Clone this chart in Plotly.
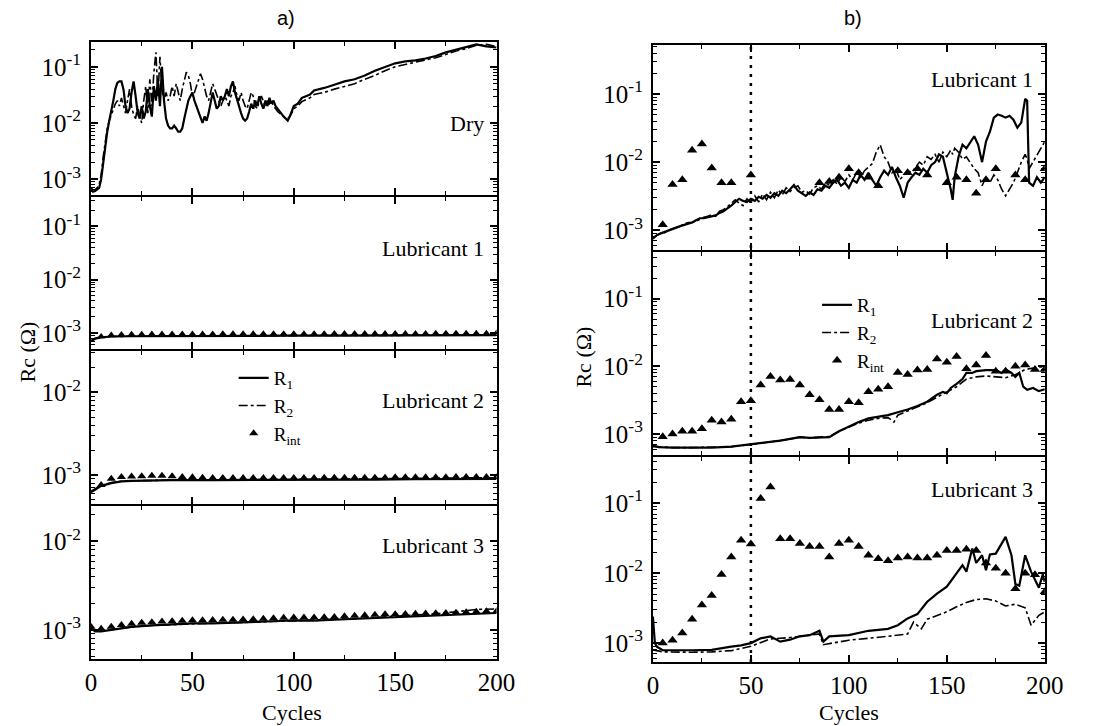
import plotly.graph_objects as go

W, H = 1097, 726

# ---------------- data ----------------
# (a) Dry
dry_x = list(range(0, 101)) + [102, 104, 106, 108, 110] + list(range(115, 201, 5))
dry_r1 = [6.5e-4, 6.0e-4, 6.2e-4, 6.5e-4, 7.0e-4, 1.0e-3, 2.0e-3, 4.0e-3, 7.0e-3, 1.1e-2,
          1.6e-2, 2.5e-2, 4.0e-2, 5.2e-2, 5.5e-2, 5.5e-2, 4.0e-2, 2.0e-2, 1.5e-2, 1.8e-2,
          3.5e-2, 5.5e-2, 3.0e-2, 1.5e-2, 1.2e-2, 2.0e-2, 1.2e-2, 1.6e-2, 4.0e-2, 2.0e-2,
          1.3e-2, 4.5e-2, 2.5e-2, 6.0e-2, 2.0e-2, 1.0e-1, 2.5e-2, 1.2e-2, 9.0e-3, 8.0e-3,
          8.0e-3, 9.0e-3, 8.0e-3, 7.0e-3, 7.0e-3, 8.0e-3, 1.2e-2, 1.8e-2, 2.5e-2, 3.0e-2,
          3.5e-2, 2.5e-2, 2.0e-2, 1.5e-2, 1.2e-2, 1.0e-2, 1.3e-2, 1.1e-2, 1.5e-2, 2.5e-2,
          3.5e-2, 2.5e-2, 1.8e-2, 2.0e-2, 3.0e-2, 2.5e-2, 3.0e-2, 4.0e-2, 3.0e-2, 4.5e-2,
          5.5e-2, 3.5e-2, 2.5e-2, 2.0e-2, 1.5e-2, 1.2e-2, 1.1e-2, 1.2e-2, 1.6e-2, 2.2e-2,
          1.8e-2, 2.5e-2, 2.0e-2, 3.0e-2, 2.2e-2, 1.8e-2, 2.5e-2, 2.0e-2, 2.8e-2, 2.2e-2,
          2.5e-2, 2.0e-2, 1.8e-2, 1.6e-2, 1.5e-2, 1.3e-2, 1.2e-2, 1.1e-2, 1.3e-2, 1.6e-2,
          2.0e-2,
          2.2e-2, 2.8e-2, 3.0e-2, 3.2e-2, 3.8e-2,
          4.2e-2, 4.8e-2, 5.5e-2, 6.0e-2, 7.0e-2, 8.5e-2, 1.0e-1, 1.15e-1, 1.25e-1, 1.3e-1,
          1.4e-1, 1.55e-1, 1.8e-1, 2.0e-1, 2.2e-1, 2.5e-1, 2.3e-1, 2.2e-1]
dry_r2 = [7.0e-4, 6.5e-4, 6.5e-4, 7.0e-4, 8.0e-4, 1.2e-3, 2.5e-3, 5.0e-3, 8.0e-3, 1.1e-2,
          1.4e-2, 1.8e-2, 2.2e-2, 2.5e-2, 2.0e-2, 2.8e-2, 2.0e-2, 1.5e-2, 2.5e-2, 4.0e-2,
          2.0e-2, 1.4e-2, 1.2e-2, 2.0e-2, 1.3e-2, 1.0e-2, 2.5e-2, 4.5e-2, 1.5e-2, 6.0e-2,
          2.0e-2, 8.0e-2, 1.8e-1, 3.0e-2, 1.5e-1, 4.0e-2, 2.5e-2, 3.5e-2, 2.5e-2, 3.0e-2,
          4.5e-2, 3.0e-2, 5.0e-2, 3.5e-2, 2.5e-2, 4.0e-2, 6.0e-2, 8.0e-2, 7.0e-2, 5.0e-2,
          3.0e-2, 3.5e-2, 4.5e-2, 6.0e-2, 7.5e-2, 6.0e-2, 4.0e-2, 3.0e-2, 2.5e-2, 3.5e-2,
          5.0e-2, 4.0e-2, 3.0e-2, 2.5e-2, 2.0e-2, 2.5e-2, 3.0e-2, 2.5e-2, 2.0e-2, 3.0e-2,
          3.5e-2, 4.5e-2, 3.0e-2, 2.5e-2, 3.5e-2, 2.5e-2, 2.0e-2, 1.8e-2, 2.5e-2, 3.5e-2,
          3.0e-2, 2.0e-2, 1.8e-2, 2.5e-2, 3.0e-2, 2.5e-2, 2.0e-2, 2.5e-2, 2.2e-2, 2.5e-2,
          2.0e-2, 1.8e-2, 1.6e-2, 1.5e-2, 1.4e-2, 1.3e-2, 1.2e-2, 1.2e-2, 1.3e-2, 1.5e-2,
          1.8e-2,
          2.0e-2, 2.4e-2, 2.6e-2, 2.8e-2, 3.2e-2,
          3.5e-2, 4.0e-2, 4.5e-2, 5.0e-2, 6.0e-2, 7.0e-2, 8.5e-2, 1.0e-1, 1.1e-1, 1.2e-1,
          1.3e-1, 1.45e-1, 1.65e-1, 1.9e-1, 2.1e-1, 2.4e-1, 2.5e-1, 2.3e-1]

# (a) Lubricant 1
a1_x = [0, 2, 5, 10, 20, 40, 60, 80, 100, 120, 140, 160, 180, 200]
a1_r1 = [7.0e-4, 7.8e-4, 8.3e-4, 8.6e-4, 8.7e-4, 8.8e-4, 8.8e-4, 8.9e-4, 8.9e-4, 8.9e-4, 9.0e-4, 9.0e-4, 9.0e-4, 9.1e-4]
a1_r2 = [7.2e-4, 8.0e-4, 8.4e-4, 8.6e-4, 8.7e-4, 8.8e-4, 8.9e-4, 8.9e-4, 8.9e-4, 9.0e-4, 9.0e-4, 9.1e-4, 9.1e-4, 9.2e-4]
a1_int_x = list(range(5, 201, 5))
a1_int = [8.6e-4, 9.2e-4, 9.4e-4, 9.5e-4, 9.5e-4, 9.6e-4, 9.6e-4, 9.6e-4, 9.6e-4, 9.6e-4,
          9.6e-4, 9.6e-4, 9.7e-4, 9.7e-4, 9.7e-4, 9.7e-4, 9.7e-4, 9.7e-4, 9.7e-4, 9.7e-4,
          9.7e-4, 9.7e-4, 9.7e-4, 9.8e-4, 9.8e-4, 9.8e-4, 9.8e-4, 9.8e-4, 9.8e-4, 9.8e-4,
          9.8e-4, 9.8e-4, 9.8e-4, 9.9e-4, 9.9e-4, 9.9e-4, 9.9e-4, 9.9e-4, 9.9e-4, 1.0e-3]

# (a) Lubricant 2
a2_x = [0, 2, 5, 10, 15, 20, 30, 40, 60, 80, 100, 120, 140, 160, 180, 200]
a2_r1 = [6.2e-4, 6.6e-4, 7.4e-4, 8.0e-4, 8.4e-4, 8.5e-4, 8.6e-4, 8.7e-4, 8.7e-4, 8.7e-4, 8.7e-4, 8.8e-4, 8.8e-4, 8.9e-4, 8.9e-4, 9.0e-4]
a2_r2 = [6.4e-4, 6.8e-4, 7.5e-4, 8.1e-4, 8.4e-4, 8.5e-4, 8.6e-4, 8.7e-4, 8.7e-4, 8.8e-4, 8.8e-4, 8.9e-4, 9.0e-4, 9.1e-4, 9.2e-4, 9.3e-4]
a2_int_x = list(range(5, 201, 5))
a2_int = [7.6e-4, 9.0e-4, 9.5e-4, 9.6e-4, 9.7e-4, 9.8e-4, 9.8e-4, 9.7e-4, 9.5e-4, 9.4e-4,
          9.3e-4, 9.2e-4, 9.2e-4, 9.2e-4, 9.2e-4, 9.2e-4, 9.2e-4, 9.2e-4, 9.2e-4, 9.2e-4,
          9.2e-4, 9.2e-4, 9.3e-4, 9.3e-4, 9.3e-4, 9.3e-4, 9.3e-4, 9.3e-4, 9.3e-4, 9.4e-4,
          9.4e-4, 9.4e-4, 9.4e-4, 9.4e-4, 9.4e-4, 9.5e-4, 9.5e-4, 9.5e-4, 9.5e-4, 9.5e-4]

# (a) Lubricant 3
a3_x = [0, 2, 5, 10, 20, 30, 40, 50, 60, 70, 80, 90, 100, 110, 120, 130, 140, 150, 160, 170, 180, 190, 200]
a3_r1 = [1.05e-3, 9.6e-4, 9.6e-4, 1.0e-3, 1.08e-3, 1.12e-3, 1.15e-3, 1.18e-3, 1.18e-3, 1.2e-3, 1.21e-3, 1.25e-3,
         1.28e-3, 1.27e-3, 1.3e-3, 1.33e-3, 1.37e-3, 1.4e-3, 1.42e-3, 1.45e-3, 1.5e-3, 1.53e-3, 1.55e-3]
a3_r2 = [1.05e-3, 9.7e-4, 9.7e-4, 1.0e-3, 1.08e-3, 1.12e-3, 1.15e-3, 1.18e-3, 1.19e-3, 1.2e-3, 1.22e-3, 1.25e-3,
         1.28e-3, 1.28e-3, 1.31e-3, 1.34e-3, 1.38e-3, 1.42e-3, 1.46e-3, 1.52e-3, 1.6e-3, 1.7e-3, 1.72e-3]
a3_int_x = list(range(0, 201, 5))
a3_int = [1.08e-3, 1.03e-3, 1.08e-3, 1.13e-3, 1.17e-3, 1.2e-3, 1.22e-3, 1.24e-3, 1.25e-3, 1.27e-3,
          1.28e-3, 1.28e-3, 1.29e-3, 1.3e-3, 1.3e-3, 1.31e-3, 1.32e-3, 1.33e-3, 1.35e-3, 1.37e-3,
          1.38e-3, 1.38e-3, 1.38e-3, 1.39e-3, 1.4e-3, 1.42e-3, 1.44e-3, 1.46e-3, 1.48e-3, 1.5e-3,
          1.5e-3, 1.51e-3, 1.52e-3, 1.53e-3, 1.54e-3, 1.55e-3, 1.56e-3, 1.58e-3, 1.6e-3, 1.62e-3, 1.62e-3]

# (b) Lubricant 1
b1_x = list(range(0, 151, 2)) + [152, 153, 154] + list(range(156, 191, 2)) + [191, 192, 194, 196, 198, 200]
b1_r1 = [7.5e-4, 8.5e-4, 9.0e-4, 9.5e-4, 1.0e-3, 1.05e-3, 1.1e-3, 1.15e-3, 1.2e-3, 1.25e-3,
         1.3e-3, 1.4e-3, 1.5e-3, 1.5e-3, 1.55e-3, 1.6e-3, 1.65e-3, 1.8e-3, 1.9e-3, 2.1e-3,
         2.3e-3, 2.6e-3, 2.9e-3, 2.7e-3, 2.6e-3, 2.9e-3, 2.7e-3, 3.1e-3, 2.9e-3, 3.3e-3,
         3.0e-3, 3.5e-3, 3.2e-3, 3.8e-3, 3.5e-3, 4.0e-3, 4.6e-3, 3.8e-3, 3.5e-3, 3.2e-3,
         3.6e-3, 3.3e-3, 4.0e-3, 3.8e-3, 4.5e-3, 4.2e-3, 5.0e-3, 5.5e-3, 4.5e-3, 5.0e-3,
         4.2e-3, 5.5e-3, 5.0e-3, 6.5e-3, 5.5e-3, 7.0e-3, 5.5e-3, 4.5e-3, 6.0e-3, 7.5e-3,
         6.5e-3, 8.5e-3, 6.0e-3, 4.5e-3, 3.0e-3, 5.0e-3, 6.0e-3, 7.0e-3, 6.5e-3, 8.0e-3,
         7.0e-3, 9.0e-3, 1.0e-2, 1.3e-2, 1.2e-2, 7.0e-3,
         4.0e-3, 2.8e-3, 6.0e-3,
         1.2e-2, 1.8e-2, 1.6e-2, 2.0e-2, 2.4e-2, 1.8e-2, 1.0e-2, 2.0e-2, 2.8e-2, 4.5e-2,
         5.0e-2, 4.8e-2, 4.5e-2, 4.8e-2, 4.2e-2, 3.2e-2, 3.8e-2, 8.5e-2,
         8.0e-2, 5.0e-3, 4.5e-3, 6.0e-3, 5.0e-3, 6.0e-3]
b1_r2 = [7.8e-4, 8.3e-4, 9.0e-4, 9.2e-4, 1.0e-3, 1.05e-3, 1.1e-3, 1.15e-3, 1.25e-3, 1.3e-3,
         1.3e-3, 1.35e-3, 1.45e-3, 1.55e-3, 1.6e-3, 1.7e-3, 1.6e-3, 1.9e-3, 2.0e-3, 2.2e-3,
         2.5e-3, 2.8e-3, 2.5e-3, 2.3e-3, 2.9e-3, 2.5e-3, 3.2e-3, 2.6e-3, 3.4e-3, 2.8e-3,
         3.6e-3, 3.0e-3, 3.9e-3, 3.3e-3, 4.2e-3, 3.7e-3, 4.2e-3, 4.5e-3, 3.6e-3, 3.8e-3,
         3.4e-3, 4.2e-3, 4.5e-3, 4.0e-3, 5.0e-3, 4.6e-3, 5.5e-3, 4.8e-3, 6.0e-3, 5.2e-3,
         6.5e-3, 5.5e-3, 7.0e-3, 6.0e-3, 7.5e-3, 8.5e-3, 9.5e-3, 1.4e-2, 1.8e-2, 1.2e-2,
         1.0e-2, 7.0e-3, 8.0e-3, 5.5e-3, 6.5e-3, 7.5e-3, 7.0e-3, 8.5e-3, 1.0e-2, 9.0e-3,
         1.2e-2, 1.1e-2, 1.3e-2, 1.0e-2, 1.4e-2, 1.2e-2,
         1.5e-2, 1.3e-2, 1.6e-2,
         1.4e-2, 1.1e-2, 1.2e-2, 1.0e-2, 8.0e-3, 7.0e-3, 4.5e-3, 6.0e-3, 5.0e-3, 6.5e-3,
         5.5e-3, 4.0e-3, 3.2e-3, 4.0e-3, 5.0e-3, 7.0e-3, 1.0e-2, 1.3e-2,
         1.1e-2, 8.0e-3, 1.0e-2, 1.3e-2, 1.6e-2, 2.0e-2]
b1_int_x = [5, 10, 15, 20, 25, 30, 35, 40, 50, 85, 90, 95, 100, 105, 110, 115, 125, 130, 135, 140,
            150, 155, 160, 165, 170, 175, 185, 190, 200]
b1_int = [1.2e-3, 4.7e-3, 5.5e-3, 1.5e-2, 1.85e-2, 8.2e-3, 5.0e-3, 5.0e-3, 6.5e-3, 5.0e-3,
          5.2e-3, 6.0e-3, 8.0e-3, 7.0e-3, 6.0e-3, 4.5e-3, 7.5e-3, 7.0e-3, 8.0e-3, 6.5e-3,
          5.0e-3, 6.0e-3, 5.5e-3, 3.5e-3, 5.5e-3, 8.0e-3, 6.5e-3, 5.5e-3, 8.0e-3]

# (b) Lubricant 2
b2_x1 = [0, 3, 10, 20, 30, 40, 50, 55, 60, 65, 70, 75, 80, 85, 90, 95, 100, 105, 110, 115, 120,
         125, 130, 135, 140, 145, 148, 150, 152, 155, 158, 160, 163, 165, 170, 175, 178, 180, 183,
         185, 187, 189, 191, 194, 197, 200]
b2_r1 = [6.8e-4, 6.4e-4, 6.3e-4, 6.3e-4, 6.3e-4, 6.5e-4, 7.0e-4, 7.3e-4, 7.6e-4, 8.0e-4, 8.5e-4,
         9.0e-4, 8.8e-4, 9.0e-4, 9.0e-4, 1.1e-3, 1.3e-3, 1.5e-3, 1.7e-3, 1.8e-3, 1.9e-3,
         2.1e-3, 2.3e-3, 2.6e-3, 3.0e-3, 3.8e-3, 4.2e-3, 4.0e-3, 4.8e-3, 5.5e-3, 6.5e-3, 8.0e-3,
         8.0e-3, 8.5e-3, 8.8e-3, 8.8e-3, 8.0e-3, 9.0e-3, 8.0e-3,
         7.0e-3, 8.0e-3, 5.0e-3, 4.5e-3, 4.8e-3, 4.3e-3, 4.6e-3]
b2_x2 = [0, 10, 20, 30, 40, 50, 60, 70, 75, 80, 85, 90, 95, 100, 105, 110, 115, 120, 123, 125,
         130, 135, 140, 145, 150, 155, 160, 165, 170, 175, 180, 185, 190, 195, 200]
b2_r2 = [6.5e-4, 6.3e-4, 6.3e-4, 6.4e-4, 6.5e-4, 7.0e-4, 7.6e-4, 8.4e-4, 9.0e-4, 8.7e-4, 9.0e-4,
         9.2e-4, 1.1e-3, 1.25e-3, 1.45e-3, 1.6e-3, 1.7e-3, 1.75e-3, 1.5e-3, 1.9e-3,
         2.2e-3, 2.5e-3, 2.9e-3, 3.5e-3, 4.2e-3, 5.0e-3, 6.5e-3, 7.0e-3, 7.2e-3, 7.0e-3, 6.8e-3,
         7.5e-3, 9.0e-3, 9.5e-3, 1.0e-2]
b2_int_x = list(range(5, 201, 5))
b2_int = [9.1e-4, 1.0e-3, 1.1e-3, 1.1e-3, 1.2e-3, 1.6e-3, 1.5e-3, 1.65e-3, 3.0e-3, 3.1e-3,
          5.3e-3, 7.1e-3, 6.3e-3, 6.4e-3, 5.3e-3, 3.8e-3, 3.2e-3, 2.3e-3, 2.3e-3, 3.0e-3,
          2.9e-3, 4.2e-3, 4.6e-3, 5.0e-3, 8.1e-3, 7.6e-3, 8.8e-3, 9.0e-3, 1.28e-2, 1.15e-2,
          1.4e-2, 9.2e-3, 1.05e-2, 1.45e-2, 8.5e-3, 8.5e-3, 1.0e-2, 1.05e-2, 9.0e-3, 9.0e-3]

# (b) Lubricant 3
b3_x1 = [0, 1, 2, 5, 20, 30, 40, 45, 50, 55, 60, 65, 70, 75, 80, 85, 87, 90, 100, 110, 120, 125,
         130, 135, 140, 145, 150, 155, 158, 160, 163, 165, 168, 170, 172, 175, 180, 183, 185, 187,
         190, 193, 195, 197, 199, 200]
b3_r1 = [2.4e-3, 1.0e-3, 8.9e-4, 7.9e-4, 7.9e-4, 8.0e-4, 8.9e-4, 9.3e-4, 1.0e-3, 1.17e-3, 1.25e-3,
         1.05e-3, 1.12e-3, 1.25e-3, 1.3e-3, 1.5e-3, 1.05e-3, 1.25e-3, 1.3e-3, 1.5e-3, 1.6e-3, 1.8e-3,
         2.25e-3, 2.6e-3, 3.9e-3, 5.1e-3, 6.4e-3, 1.0e-2, 1.3e-2, 1.05e-2, 2.25e-2, 1.4e-2, 1.8e-2,
         1.1e-2, 1.85e-2, 1.9e-2, 3.3e-2, 1.8e-2, 7.0e-3, 6.6e-3,
         1.8e-2, 1.05e-2, 8.0e-3, 6.2e-3, 9.6e-3, 7.5e-3]
b3_x2 = [0, 5, 20, 30, 40, 50, 60, 70, 80, 85, 87, 100, 120, 130, 133, 137, 140, 150, 155, 160,
         165, 170, 175, 180, 185, 190, 193, 197, 200]
b3_r2 = [8.0e-4, 7.5e-4, 7.4e-4, 7.5e-4, 7.8e-4, 9.0e-4, 1.15e-3, 1.2e-3, 1.3e-3, 1.35e-3, 9.5e-4,
         1.1e-3, 1.25e-3, 1.35e-3, 2.0e-3, 1.6e-3, 2.2e-3, 2.8e-3, 3.3e-3, 3.8e-3,
         4.2e-3, 4.3e-3, 4.0e-3, 3.4e-3, 3.6e-3, 3.2e-3, 1.8e-3, 2.5e-3, 2.8e-3]
b3_int_x = list(range(5, 201, 5))
b3_int = [1.0e-3, 1.1e-3, 1.4e-3, 2.2e-3, 3.5e-3, 4.8e-3, 9.6e-3, 1.7e-2, 2.95e-2, 2.6e-2,
          1.17e-1, 1.7e-1, 3.1e-2, 3.1e-2, 2.65e-2, 2.4e-2, 2.4e-2, 1.7e-2, 2.65e-2, 2.95e-2,
          2.4e-2, 1.8e-2, 1.6e-2, 1.5e-2, 1.65e-2, 1.7e-2, 1.65e-2, 1.65e-2, 1.8e-2, 2.1e-2,
          2.1e-2, 2.2e-2, 2.1e-2, 1.4e-2, 1.17e-2, 1.0e-2, 6.0e-3, 1.0e-2, 9.5e-3, 5.4e-3]

panel_labels = ["Dry", "Lubricant 1", "Lubricant 2", "Lubricant 3",
                "Lubricant 1", "Lubricant 2", "Lubricant 3"]
x_ticks = [0, 50, 100, 150, 200]
y_ticks = [1e-3, 1e-2, 1e-1]
y_ticktext = ["10<sup>-3</sup>", "10<sup>-2</sup>", "10<sup>-1</sup>"]

# ---------------- figure ----------------
SERIF = "Liberation Serif"
fig = go.Figure()

N1 = "R<sub>1</sub>"
N2 = "R<sub>2</sub>"
NI = "R<sub>int</sub>"


def lines(i, x1, y1, x2, y2, legend=None):
    show = legend is not None
    fig.add_trace(go.Scatter(x=x1, y=y1, mode="lines", name=N1, xaxis=f"x{i}", yaxis=f"y{i}",
                             line=dict(color="black", width=2.2), showlegend=show,
                             legend=legend or "legend"))
    fig.add_trace(go.Scatter(x=x2, y=y2, mode="lines", name=N2, xaxis=f"x{i}", yaxis=f"y{i}",
                             line=dict(color="black", width=1.6, dash="dashdot"), showlegend=show,
                             legend=legend or "legend"))


def tri(i, x, y, size=9, legend=None):
    show = legend is not None
    fig.add_trace(go.Scatter(x=x, y=y, mode="markers", name=NI, xaxis=f"x{i}", yaxis=f"y{i}",
                             marker=dict(symbol="triangle-up", size=size, color="black"),
                             showlegend=show, legend=legend or "legend"))


lines(1, dry_x, dry_r1, dry_x, dry_r2)
lines(2, a1_x, a1_r1, a1_x, a1_r2)
tri(2, a1_int_x, a1_int, 7)
lines(3, a2_x, a2_r1, a2_x, a2_r2, legend="legend")
tri(3, a2_int_x, a2_int, 8, legend="legend")
lines(4, a3_x, a3_r1, a3_x, a3_r2)
tri(4, a3_int_x, a3_int, 8)
lines(5, b1_x, b1_r1, b1_x, b1_r2)
tri(5, b1_int_x, b1_int, 9)
lines(6, b2_x1, b2_r1, b2_x2, b2_r2, legend="legend2")
tri(6, b2_int_x, b2_int, 9, legend="legend2")
lines(7, b3_x1, b3_r1, b3_x2, b3_r2)
tri(7, b3_int_x, b3_int, 9)

# panel geometry (pixels)
LW = 2
LX = (87, 502)
RX = (662, 1063)
left_edges = [42, 196, 350, 505, 659]
right_edges = [45, 251, 456, 662]
yranges = [(-3.28, -0.56), (-3.30, -0.45), (-3.35, -1.50), (-3.33, -1.60),
           (-3.29, -0.28), (-3.31, -0.31), (-3.27, -0.34)]
label_y = [-2.0, -1.42, -2.1, -2.05, -0.79, -1.32, -0.80]

minor_vals = [k * 10.0 ** e for e in range(-4, 1) for k in range(2, 10)]

panels = []
for edges, xr in ((left_edges, LX), (right_edges, RX)):
    n = len(edges) - 1
    for j in range(n):
        top = edges[j] + (LW / 2 if j > 0 else 0)
        bot = edges[j + 1] - (LW / 2 if j < n - 1 else 0)
        panels.append((xr, top, bot, j == n - 1))

layout = {}
for i, ((xa, xb), top, bot, showx) in enumerate(panels, start=1):
    layout[f"xaxis{i}"] = dict(
        domain=[xa / W, xb / W], anchor=f"y{i}", range=[0, 200],
        tickvals=x_ticks, ticks="inside", ticklen=7, tickwidth=1.5, tickcolor="black",
        showticklabels=showx, showline=True, linecolor="black", linewidth=LW, mirror="ticks",
        showgrid=False, zeroline=False,
        minor=dict(tickvals=[25, 75, 125, 175], ticks="inside", ticklen=4, tickcolor="black", tickwidth=1.2),
        tickfont=dict(family=SERIF, size=25, color="black"),
    )
    lo, hi = yranges[i - 1]
    layout[f"yaxis{i}"] = dict(
        domain=[1 - bot / H, 1 - top / H], anchor=f"x{i}", type="log", range=[lo, hi],
        tickvals=y_ticks, ticktext=y_ticktext, ticks="inside", ticklen=7, tickwidth=1.5,
        tickcolor="black", showline=True, linecolor="black", linewidth=LW, mirror="ticks",
        showgrid=False, zeroline=False,
        minor=dict(tickvals=minor_vals, ticks="inside", ticklen=4, tickcolor="black", tickwidth=1),
        tickfont=dict(family=SERIF, size=25, color="black"), ticklabelstandoff=3,
    )

annotations = []
for i, txt in enumerate(panel_labels, start=1):
    annotations.append(dict(text=txt, xref=f"x{i}", yref=f"y{i}", x=195, y=label_y[i - 1],
                            xanchor="right", yanchor="middle", showarrow=False,
                            font=dict(family=SERIF, size=22, color="black")))


def ptext(txt, px, py, size=22, family=SERIF, angle=0):
    return dict(text=txt, xref="paper", yref="paper", x=px / W, y=1 - py / H,
                xanchor="center", yanchor="middle", textangle=angle, showarrow=False,
                font=dict(family=family, size=size, color="black"))


annotations += [
    ptext("a)", 287, 18, 20, "Liberation Sans"),
    ptext("b)", 867, 18, 20, "Liberation Sans"),
    ptext("Cycles", 293, 712),
    ptext("Cycles", 863, 712),
    ptext("Rc (Ω)", 21, 352, angle=-90),
    ptext("Rc (Ω)", 590, 357, angle=-90),
]

shapes = [dict(type="line", xref="x7", yref="paper", x0=50, x1=50,
               y0=1 - right_edges[3] / H, y1=1 - right_edges[0] / H,
               line=dict(color="black", width=2.5, dash="3px,6px"))]

leg_common = dict(bgcolor="rgba(0,0,0,0)", borderwidth=0, xanchor="left", yanchor="top",
                  font=dict(family=SERIF, size=19, color="black"), tracegroupgap=0,
                  traceorder="normal")
fig.update_layout(
    width=W, height=H, margin=dict(l=0, r=0, t=0, b=0),
    paper_bgcolor="white", plot_bgcolor="white",
    annotations=annotations, shapes=shapes,
    legend=dict(x=233 / W, y=1 - 359 / H, **leg_common),
    legend2=dict(x=830 / W, y=1 - 286 / H, **leg_common),
    **layout,
)

fig.write_html("out.html")
